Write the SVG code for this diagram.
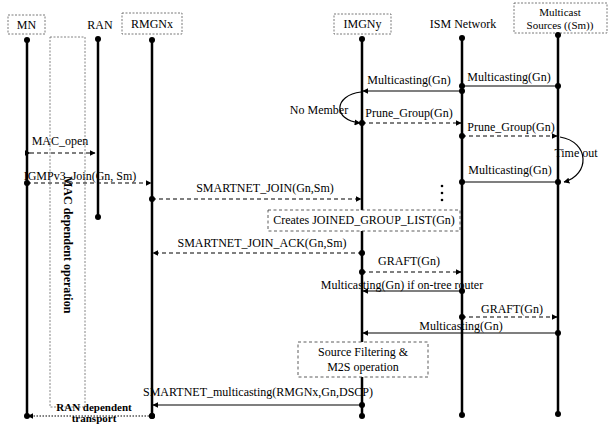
<svg xmlns="http://www.w3.org/2000/svg" width="613" height="424" viewBox="0 0 613 424">
<defs>
<marker id="arr" viewBox="0 0 10 10" refX="9" refY="5" markerWidth="6" markerHeight="6" markerUnits="userSpaceOnUse" orient="auto"><path d="M0,0 L10,5 L0,10 z" fill="#000"/></marker>
<marker id="dot" viewBox="0 0 10 10" refX="5" refY="5" markerWidth="6" markerHeight="6" markerUnits="userSpaceOnUse"><circle cx="5" cy="5" r="5" fill="#000"/></marker>
<style>
text{font-family:'Liberation Serif','DejaVu Serif','Times New Roman',serif;font-size:12px;fill:#000}
.b{font-weight:bold}
.s{font-size:11px}
.life{stroke:#000;stroke-width:2.5;fill:none}
.box{fill:#fff;stroke:#555;stroke-width:0.8;stroke-dasharray:2,1.5}
.sol{stroke:#000;stroke-width:1.2;fill:none}
.dsh{stroke:#000;stroke-width:1.2;fill:none;stroke-dasharray:4,3}
.dot2{stroke:#000;stroke-width:1.2;fill:none;stroke-dasharray:1.5,1.5}
.opb{fill:#fff;stroke:#333;stroke-width:0.8;stroke-dasharray:3,2.5}
.mac{fill:none;stroke:#666;stroke-width:0.8;stroke-dasharray:2,1.5}
</style>
</defs>

<g id="MN">
<rect class="box" x="8" y="15" width="37" height="19"/>
<text x="26.5" y="29" text-anchor="middle">MN</text>
<line class="life" x1="27" y1="40" x2="27" y2="416"/>
<circle cx="27" cy="40" r="3"/><circle cx="27" cy="416" r="3"/>
</g>
<g id="RAN">
<text x="100" y="29" text-anchor="middle">RAN</text>
<line class="life" x1="98" y1="39" x2="98" y2="217"/>
<circle cx="98" cy="39" r="3"/><circle cx="98" cy="217" r="3"/>
</g>
<g id="RMGNx">
<rect class="box" x="122" y="13" width="60" height="21"/>
<text x="152" y="28" text-anchor="middle">RMGNx</text>
<line class="life" x1="152" y1="40" x2="152" y2="416"/>
<circle cx="152" cy="40" r="3"/><circle cx="152" cy="416" r="3"/>
</g>
<g id="IMGNy">
<rect class="box" x="334" y="14" width="57" height="20"/>
<text x="362.5" y="28" text-anchor="middle">IMGNy</text>
<line class="life" x1="362" y1="39" x2="362" y2="416"/>
<circle cx="362" cy="39" r="3"/><circle cx="362" cy="416" r="3"/>
</g>
<g id="ISM">
<text x="463" y="28" text-anchor="middle">ISM Network</text>
<line class="life" x1="462" y1="38" x2="462" y2="415"/>
<circle cx="462" cy="38" r="3"/><circle cx="462" cy="415" r="3"/>
</g>
<g id="MS">
<rect class="box" x="514" y="3" width="93" height="30"/>
<text class="s" x="560" y="16" text-anchor="middle">Multicast</text>
<text class="s" x="560" y="29" text-anchor="middle">Sources ((Sm))</text>
<line class="life" x1="558" y1="35" x2="558" y2="414"/>
<circle cx="558" cy="35" r="3"/><circle cx="558" cy="414" r="3"/>
</g>

<g id="MACop">
<rect class="mac" x="50" y="37" width="35" height="370"/>
<text class="b" transform="translate(64,176) rotate(90)">MAC dependent operation</text>
</g>

<g id="connectors">
<line class="dsh" x1="30" y1="153" x2="95" y2="153" marker-start="url(#arr)" marker-end="url(#arr)"/>
<line class="sol" x1="558" y1="86" x2="462" y2="86" marker-start="url(#dot)" marker-end="url(#dot)"/>
<line class="sol" x1="462" y1="91" x2="363" y2="91" marker-start="url(#dot)" marker-end="url(#arr)"/>
<path class="sol" d="M361,92 C334,95 332,120 360,123" marker-end="url(#arr)"/>
<line class="dsh" x1="362" y1="123" x2="461" y2="123" marker-start="url(#dot)" marker-end="url(#arr)"/>
<line class="dsh" x1="462" y1="136" x2="557" y2="136" marker-start="url(#dot)" marker-end="url(#arr)"/>
<path class="sol" d="M560,137 C590,142 590,175 564,182" marker-end="url(#arr)"/>
<line class="sol" x1="558" y1="182" x2="462" y2="182" marker-start="url(#dot)" marker-end="url(#dot)"/>
<line class="dsh" x1="27" y1="183" x2="151" y2="183" marker-start="url(#dot)" marker-end="url(#arr)"/>
<line class="dsh" x1="152" y1="199" x2="361" y2="199" marker-start="url(#dot)" marker-end="url(#arr)"/>
<line class="dsh" x1="362" y1="253" x2="153" y2="253" marker-start="url(#dot)" marker-end="url(#arr)"/>
<line class="dsh" x1="362" y1="272" x2="461" y2="272" marker-start="url(#dot)" marker-end="url(#arr)"/>
<line class="sol" x1="462" y1="291" x2="363" y2="291" marker-start="url(#dot)" marker-end="url(#arr)"/>
<line class="dsh" x1="462" y1="317" x2="557" y2="317" marker-start="url(#dot)" marker-end="url(#arr)"/>
<line class="sol" x1="558" y1="333" x2="363" y2="333" marker-start="url(#dot)" marker-end="url(#arr)"/>
<line class="sol" x1="362" y1="405" x2="153" y2="405" marker-start="url(#dot)" marker-end="url(#arr)"/>
<line class="dot2" x1="152" y1="416" x2="28" y2="416" marker-start="url(#dot)" marker-end="url(#arr)"/>
<circle cx="442" cy="186" r="1.3"/><circle cx="442" cy="193" r="1.3"/><circle cx="442" cy="200" r="1.3"/>
</g>

<g id="JGL">
<rect class="opb" x="268" y="210" width="192" height="21"/>
<text x="364" y="224" text-anchor="middle">Creates JOINED_GROUP_LIST(Gn)</text>
</g>
<g id="SF">
<rect class="opb" x="298" y="342" width="130" height="35"/>
<text x="363" y="356" text-anchor="middle">Source Filtering &amp;</text>
<text x="363" y="371" text-anchor="middle">M2S operation</text>
</g>

<g id="labels">
<text x="60" y="145" text-anchor="middle">MAC_open</text>
<text x="509" y="81" text-anchor="middle">Multicasting(Gn)</text>
<text x="409" y="84" text-anchor="middle">Multicasting(Gn)</text>
<text x="319" y="114" text-anchor="middle">No Member</text>
<text x="409" y="117" text-anchor="middle">Prune_Group(Gn)</text>
<text x="511" y="131" text-anchor="middle">Prune_Group(Gn)</text>
<text x="576" y="157" text-anchor="middle">Time out</text>
<text x="510" y="174" text-anchor="middle">Multicasting(Gn)</text>
<text x="80" y="180" text-anchor="middle">IGMPv3_Join(Gn, Sm)</text>
<text x="265" y="192" text-anchor="middle">SMARTNET_JOIN(Gn,Sm)</text>
<text x="262" y="247" text-anchor="middle">SMARTNET_JOIN_ACK(Gn,Sm)</text>
<text x="409" y="265" text-anchor="middle">GRAFT(Gn)</text>
<text x="402" y="289" text-anchor="middle">Multicasting(Gn) if on-tree router</text>
<text x="512" y="313" text-anchor="middle">GRAFT(Gn)</text>
<text x="461" y="330" text-anchor="middle">Multicasting(Gn)</text>
<text x="258" y="396" text-anchor="middle">SMARTNET_multicasting(RMGNx,Gn,DSCP)</text>
<text class="b s" x="94" y="411" text-anchor="middle">RAN dependent</text>
<text class="b s" x="94" y="422" text-anchor="middle">transport</text>
</g>
</svg>
